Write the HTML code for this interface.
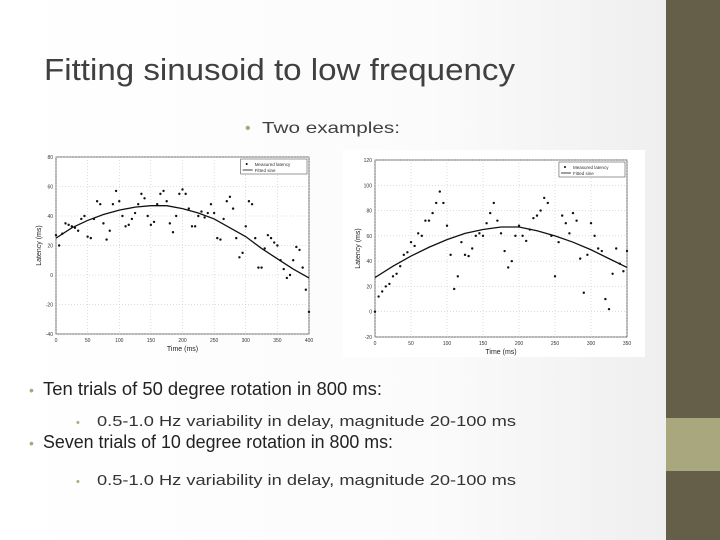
<!DOCTYPE html>
<html><head><meta charset="utf-8"><style>
html,body{margin:0;padding:0;background:#fff;}
svg{display:block;font-family:"Liberation Sans",sans-serif;}
</style></head><body>
<svg id="slide" width="720" height="540" viewBox="0 0 720 540" xmlns="http://www.w3.org/2000/svg">
<defs><linearGradient id="bg" x1="0" x2="1" y1="0" y2="0"><stop offset="0" stop-color="#ffffff"/><stop offset="0.6" stop-color="#fbfbfb"/><stop offset="1" stop-color="#ececec"/></linearGradient></defs>
<rect x="0" y="0" width="720" height="540" fill="url(#bg)"/>
<rect x="666" y="0" width="54" height="540" fill="#655e48"/>
<rect x="666" y="418" width="54" height="53" fill="#a9a77e"/>
<text x="44" y="80" font-size="31" fill="#404040" textLength="471" lengthAdjust="spacingAndGlyphs">Fitting sinusoid to low frequency</text>
<text x="245" y="133" font-size="16" fill="#404040"><tspan fill="#a9a77e">•</tspan><tspan x="262" textLength="138" lengthAdjust="spacingAndGlyphs">Two examples:</tspan></text>
<rect x="343" y="150" width="302" height="207" fill="#fff"/>
<g id="c1"></g>
<g id="c2"></g>
<text x="29" y="395" font-size="18" fill="#222"><tspan fill="#a9a77e" font-size="14">•</tspan><tspan x="43" textLength="339" lengthAdjust="spacingAndGlyphs">Ten trials of 50 degree rotation in 800 ms:</tspan></text>
<text x="76" y="426" font-size="15" fill="#333"><tspan fill="#a9a77e" font-size="11">•</tspan><tspan x="97" textLength="419" lengthAdjust="spacingAndGlyphs">0.5-1.0 Hz variability in delay, magnitude 20-100 ms</tspan></text>
<text x="29" y="448" font-size="18" fill="#222"><tspan fill="#a9a77e" font-size="14">•</tspan><tspan x="43" textLength="350" lengthAdjust="spacingAndGlyphs">Seven trials of 10 degree rotation in 800 ms:</tspan></text>
<text x="76" y="485" font-size="15" fill="#333"><tspan fill="#a9a77e" font-size="11">•</tspan><tspan x="97" textLength="419" lengthAdjust="spacingAndGlyphs">0.5-1.0 Hz variability in delay, magnitude 20-100 ms</tspan></text>
</svg>
<script>
const c1Times=[0,5,10,15,20,25,30,35,40,45,50,55,60,65,70,75,80,85,90,95,100,105,110,115,120,125,130,135,140,145,150,155,160,165,170,175,180,185,190,195,200,205,210,215,220,225,230,235,240,245,250,255,260,265,270,275,280,285,290,295,300,305,310,315,320,325,330,335,340,345,350,355,360,365,370,375,380,385,390,395,400];
const c1Measured=[27,20,28,35,34,33,32,30,38,40,26,25,38,50,48,35,24,30,48,57,50,40,33,34,38,42,48,55,52,40,34,36,48,55,57,50,35,29,40,55,58,55,45,33,33,40,43,39,42,48,42,25,24,38,50,53,45,25,12,15,33,50,48,25,5,5,18,27,25,22,20,10,4,-2,0,10,19,17,5,-10,-25];
const c1FitT=[0,25,50,75,100,125,150,175,200,225,250,275,300,325,350,375,400];
const c1Fit=[25,32,37,41,44,46,47,47,45,42,38,32,26,18,11,4,-2];
const c1XTicks=[0,50,100,150,200,250,300,350,400];
const c1YTicks=[-40,-20,0,20,40,60,80];

const c2Times=[0,5,10,15,20,25,30,35,40,45,50,55,60,65,70,75,80,85,90,95,100,105,110,115,120,125,130,135,140,145,150,155,160,165,170,175,180,185,190,195,200,205,210,215,220,225,230,235,240,245,250,255,260,265,270,275,280,285,290,295,300,305,310,315,320,325,330,335,340,345,350];
const c2Measured=[0,12,16,20,22,28,30,36,45,47,55,52,62,60,72,72,78,86,95,86,68,45,18,28,55,45,44,50,60,62,60,70,78,86,72,62,48,35,40,60,68,60,56,65,74,76,80,90,86,60,28,55,76,70,62,78,72,42,15,45,70,60,50,48,10,2,30,50,38,32,48];
const c2FitT=[0,25,50,75,100,125,150,175,200,225,250,275,300,325,350];
const c2Fit=[27,36,44,51,57,62,65,67,67,64,60,55,49,42,35];
const c2XTicks=[0,50,100,150,200,250,300,350];
const c2YTicks=[-20,0,20,40,60,80,100,120];

const NS="http://www.w3.org/2000/svg";
function mk(tag,attrs,parent){const e=document.createElementNS(NS,tag);for(const k in attrs)e.setAttribute(k,attrs[k]);parent.appendChild(e);return e;}
function drawChart(g,box,xMin,xMax,yMin,yMax,xt,yt,times,meas,fitT,fit){
  const X=v=>box.l+(v-xMin)/(xMax-xMin)*(box.r-box.l);
  const Y=v=>box.b-(v-yMin)/(yMax-yMin)*(box.b-box.t);
  const bg=mk('rect',{x:box.l,y:box.t,width:box.r-box.l,height:box.b-box.t,fill:'#fff',stroke:'#333','stroke-width':0.7},g);
  
  
  xt.forEach(v=>{
    const l=mk('line',{x1:X(v),x2:X(v),y1:box.t,y2:box.b,stroke:'#bbb','stroke-width':0.5,'stroke-dasharray':'1,2'},g);
    
    
    const t=mk('text',{x:X(v),y:box.b+8,'font-size':5,'text-anchor':'middle',fill:'#333'},g);
    
    
    t.textContent=v;
  });
  yt.forEach(v=>{
    const l=mk('line',{x1:box.l,x2:box.r,y1:Y(v),y2:Y(v),stroke:'#bbb','stroke-width':0.5,'stroke-dasharray':'1,2'},g);
    
    
    const t=mk('text',{x:box.l-3,y:Y(v)+2,'font-size':5,'text-anchor':'end',fill:'#333'},g);
    
    
    t.textContent=v;
  });
  const xl=mk('text',{x:(box.l+box.r)/2,y:box.b+17,'font-size':7,'text-anchor':'middle',fill:'#222'},g);
  
  
  xl.textContent='Time (ms)';
  const yl=mk('text',{x:0,y:0,'font-size':7,'text-anchor':'middle',fill:'#222',transform:`translate(${box.l-15},${(box.t+box.b)/2}) rotate(-90)`},g);
  
  
  yl.textContent='Latency (ms)';
  const pts=fitT.map((t,i)=>X(t)+','+Y(fit[i])).join(' ');
  const pl=mk('polyline',{points:pts,fill:'none',stroke:'#111','stroke-width':1.3},g);
  
  
  times.forEach((t,i)=>{
    const c=mk('circle',{cx:X(t),cy:Y(meas[i]),r:1.2,fill:'#111'},g);
    
    
  });
  const lw=box.r-box.l, lx=box.r-lw*0.27, ly=box.t+2;
  const lg=mk('g',{},g);
  
  
  mk('rect',{x:lx,y:ly,width:lw*0.27-2,height:15,fill:'#fff',stroke:'#333','stroke-width':0.5},lg);
  mk('circle',{cx:lx+6,cy:ly+5,r:1},lg);
  const t1=mk('text',{x:lx+14,y:ly+7,'font-size':4.5,fill:'#333'},lg);
  
  
  t1.textContent='Measured latency';
  mk('line',{x1:lx+2,x2:lx+12,y1:ly+11,y2:ly+11,stroke:'#111','stroke-width':0.8},lg);
  const t2=mk('text',{x:lx+14,y:ly+13,'font-size':4.5,fill:'#333'},lg);
  
  
  t2.textContent='Fitted sine';
}
drawChart(document.getElementById('c1'),{l:56,r:309,t:157,b:334},0,400,-40,80,c1XTicks,c1YTicks,c1Times,c1Measured,c1FitT,c1Fit);
drawChart(document.getElementById('c2'),{l:375,r:627,t:160,b:337},0,350,-20,120,c2XTicks,c2YTicks,c2Times,c2Measured,c2FitT,c2Fit);
</script>
</body></html>
